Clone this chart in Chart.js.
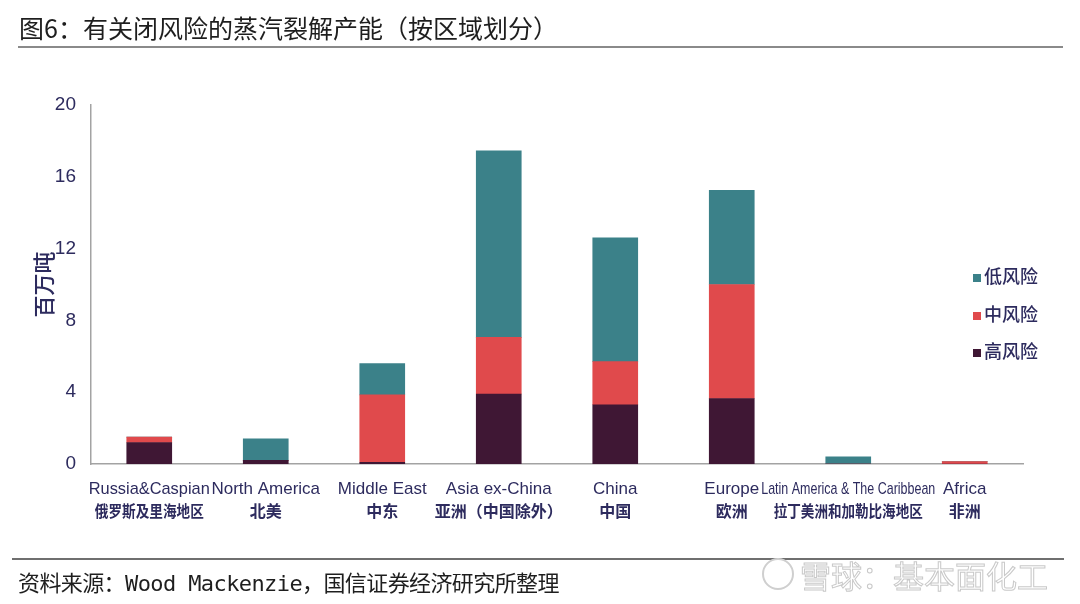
<!DOCTYPE html>
<html>
<head>
<meta charset="utf-8">
<script src="https://cdn.jsdelivr.net/npm/chart.js@4"></script>
<style>
  html, body { margin: 0; padding: 0; background: #fff; }
  #wrap { position: relative; width: 1080px; height: 604px; overflow: hidden; background: #fff; }
  #c { position: absolute; left: 0; top: 0; }
  #title { position: absolute; left: 19px; top: 9px; font: 400 25px "Noto Sans CJK SC", sans-serif; color: #1e1e1e; white-space: nowrap; }
  #tline { position: absolute; left: 18px; top: 46px; width: 1045px; height: 2px; background: #8a8a8a; }
  #fline { position: absolute; left: 12px; top: 558px; width: 1052px; height: 1.5px; background: #6f6f6f; }
  #foot { position: absolute; left: 18px; top: 565px; font: 400 22px "DejaVu Sans Mono", "Noto Sans CJK SC", monospace; color: #1e1e1e; white-space: nowrap; letter-spacing: -0.6px; }
  #wm { position: absolute; left: 800px; top: 552px; font: 400 31px "Noto Sans CJK SC", sans-serif; color: #fff; -webkit-text-stroke: 1px #c9c9c9; white-space: nowrap; }
  #wmlogo { position: absolute; left: 762px; top: 558px; width: 28px; height: 28px; border: 2px solid #cfcfcf; border-radius: 50%; }
  #legend { position: absolute; left: 973px; top: 262px; font: 500 18px "Noto Sans CJK SC", sans-serif; color: #2d2b5e; }
  #legend div { height: 37.5px; line-height: 26px; white-space: nowrap; }
  #legend span.sq { display: inline-block; width: 8px; height: 8px; margin-right: 3px; vertical-align: 1px; }
</style>
</head>
<body>
<div id="wrap">
  <canvas id="c" width="1080" height="604"></canvas>
  <div id="title">图6：有关闭风险的蒸汽裂解产能（按区域划分）</div>
  <div id="tline"></div>
  <div id="legend"></div>
  <div id="fline"></div>
  <div id="foot">资料来源：Wood Mackenzie，国信证券经济研究所整理</div>
  <div id="wmlogo"></div>
  <div id="wm">雪球：基本面化工</div>
</div>
<script>
// ---- data ----
const categoriesEn = ["Russia&Caspian", "North America", "Middle East", "Asia ex-China", "China", "Europe", "Latin America & The Caribbean", "Africa"];
const categoriesZh = ["俄罗斯及里海地区", "北美", "中东", "亚洲（中国除外）", "中国", "欧洲", "拉丁美洲和加勒比海地区", "非洲"];
const highRisk = [1.2, 0.2, 0.1, 3.9, 3.3, 3.65, 0, 0];
const midRisk  = [0.3, 0, 3.75, 3.15, 2.4, 6.35, 0, 0.13];
const lowRisk  = [0, 1.2, 1.75, 10.4, 6.9, 5.25, 0.4, 0];
const seriesNames = ["高风险", "中风险", "低风险"];
const yTicks = [0, 4, 8, 12, 16, 20];

// ---- styles ----
const COLORS = ["#3f1734", "#e04a4c", "#3b8189"];
const NAVY = "#2d2b5e";
const AXIS = "#a3a3a3";
const EN_MAXW = [121, 0, 0, 0, 0, 0, 174, 0];
const ZH_MAXW = [109, 0, 0, 0, 0, 0, 149, 0];

// legend (top to bottom: low, mid, high)
const legendEl = document.getElementById('legend');
[2, 1, 0].forEach(i => {
  const d = document.createElement('div');
  d.innerHTML = '<span class="sq" style="background:' + COLORS[i] + '"></span>' + seriesNames[i];
  legendEl.appendChild(d);
});

const xLabelsPlugin = {
  id: 'xLabels',
  afterDraw(chart) {
    const ctx = chart.ctx;
    const xs = chart.scales.x;
    const base = chart.chartArea.bottom;
    ctx.save();
    ctx.fillStyle = NAVY;
    ctx.textAlign = 'center';
    ctx.textBaseline = 'middle';
    categoriesEn.forEach((t, i) => {
      const x = xs.getPixelForValue(i);
      ctx.font = '17px "Liberation Sans", Arial, sans-serif';
      if (EN_MAXW[i]) ctx.fillText(t, x, base + 25, EN_MAXW[i]); else ctx.fillText(t, x, base + 25);
      ctx.font = 'bold 16px "Noto Sans CJK SC", sans-serif';
      const z = categoriesZh[i];
      if (ZH_MAXW[i]) ctx.fillText(z, x, base + 47, ZH_MAXW[i]); else ctx.fillText(z, x, base + 47);
    });
    ctx.restore();
  }
};

new Chart(document.getElementById('c'), {
  type: 'bar',
  data: {
    labels: categoriesEn,
    datasets: [
      { label: seriesNames[0], data: highRisk, backgroundColor: COLORS[0] },
      { label: seriesNames[1], data: midRisk, backgroundColor: COLORS[1] },
      { label: seriesNames[2], data: lowRisk, backgroundColor: COLORS[2] }
    ]
  },
  options: {
    responsive: false,
    animation: false,
    devicePixelRatio: 1,
    layout: { padding: { left: 0, right: 57, top: 105, bottom: 80 } },
    datasets: { bar: { barThickness: 45, borderWidth: 0 } },
    plugins: { legend: { display: false }, tooltip: { enabled: false } },
    scales: {
      x: {
        stacked: true,
        grid: { display: false, drawTicks: false },
        border: { display: true, color: AXIS, width: 1.5 },
        ticks: { display: false },
        afterFit(s) { s.height = 60; }
      },
      y: {
        stacked: true,
        min: 0, max: 20,
        afterBuildTicks(s) { s.ticks = yTicks.map(v => ({ value: v })); },
        grid: { display: false, drawTicks: false },
        border: { display: true, color: AXIS, width: 1.5 },
        ticks: { color: NAVY, font: { family: '"Liberation Sans", Arial, sans-serif', size: 19 }, padding: 15 },
        title: { display: true, text: '百万吨', color: NAVY, font: { family: '"Noto Sans CJK SC", sans-serif', size: 22, weight: '500' }, padding: { top: 30, bottom: 0 } },
        afterFit(s) { s.width = 91; }
      }
    }
  },
  plugins: [xLabelsPlugin]
});
</script>
</body>
</html>
